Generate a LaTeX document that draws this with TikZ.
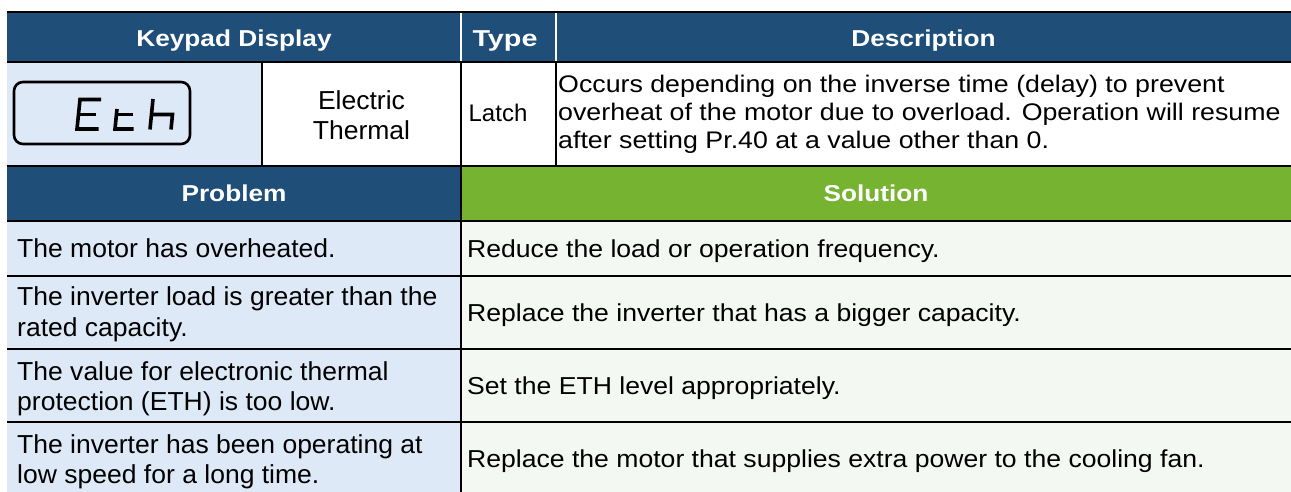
\documentclass[tikz,border=0pt]{standalone}
\usepackage{fontspec}
\setmainfont{Liberation Sans}
\newfontfamily\hdrfont{Liberation Sans}[FakeStretch=1.14]
\newfontfamily\typefont{Liberation Sans}[FakeStretch=1.25]
\newfontfamily\probfont{Liberation Sans}[FakeStretch=1.02]
\newfontfamily\solfont{Liberation Sans}[FakeStretch=1.085]
\newfontfamily\descfont{Liberation Sans}[FakeStretch=1.115]
\definecolor{hdrblue}{RGB}{31,78,121}
\definecolor{lightblue}{RGB}{221,233,246}
\definecolor{hdrgreen}{RGB}{118,179,48}
\definecolor{solbg}{RGB}{244,248,242}
\tikzset{
  rule/.style={draw=black,line width=2pt},
  wrule/.style={draw=white,line width=2pt},
  hdr/.style={inner sep=0pt,anchor=base,text=white,font=\hdrfont\bfseries\fontsize{23}{27}\selectfont},
  hdrtype/.style={inner sep=0pt,anchor=base,text=white,font=\typefont\bfseries\fontsize{23}{27}\selectfont},
  probtxt/.style={inner sep=0pt,anchor=base west,font=\probfont\fontsize{26}{30}\selectfont},
  soltxt/.style={inner sep=0pt,anchor=base west,font=\solfont\fontsize{24.5}{29}\selectfont},
  desctxt/.style={inner sep=0pt,anchor=base west,font=\descfont\fontsize{24}{28}\selectfont},
  midtxt/.style={inner sep=0pt,anchor=base,font=\probfont\fontsize{26}{30}\selectfont},
  latchtxt/.style={inner sep=0pt,anchor=base,font=\fontsize{24}{28}\selectfont},
  seg/.style={line width=3.6pt,line join=miter},
  lcdbox/.style={draw=black,line width=2.6pt,rounded corners=9pt}
}
\begin{document}
\begin{tikzpicture}[x=1pt,y=-1pt]
\useasboundingbox (0,0) rectangle (1291,492);
% fills
\fill[hdrblue] (7,12) rectangle (1291,62);
\fill[lightblue] (7,62) rectangle (262,166);
\fill[white] (262,62) rectangle (1291,166);
\fill[hdrblue] (7,166) rectangle (461,221);
\fill[hdrgreen] (461,166) rectangle (1291,221);
\fill[lightblue] (7,221) rectangle (461,495);
\fill[solbg] (461,221) rectangle (1291,495);
% header separators
\draw[wrule] (461,13) -- (461,61);
\draw[wrule] (556,13) -- (556,61);
% black rules
\draw[rule] (7,12) -- (1291,12);
\draw[rule] (7,62) -- (1291,62);
\draw[rule] (7,166) -- (1291,166);
\draw[rule] (7,221) -- (1291,221);
\draw[rule] (7,276) -- (1291,276);
\draw[rule] (7,349) -- (1291,349);
\draw[rule] (7,422) -- (1291,422);
\draw[rule] (262,62) -- (262,166);
\draw[rule] (461,62) -- (461,495);
\draw[rule] (556,62) -- (556,166);
% LCD display
\draw[lcdbox] (14,82) rectangle (190,144);
\draw[seg] (101,99.5) -- (80,99.5) -- (77,129) -- (98.5,129);
\draw[seg] (78.5,114.5) -- (96,114.5);
\draw[seg] (117,109) -- (115,129) -- (133.5,129);
\draw[seg] (116.5,114.5) -- (133,114.5);
\draw[seg] (153,99) -- (150,129.5);
\draw[seg] (151.5,114.5) -- (172.5,114.5) -- (171,129.5);
% header texts
\node[hdr] (hkd) at (234,46.5) {Keypad Display};
\node[hdrtype] (hty) at (505,46.5) {Type};
\node[hdr] (hde) at (923.5,46.5) {Description};
% second row
\node[midtxt] (et1) at (361.5,110) {Electric};
\node[midtxt] (et2) at (361.5,140) {Thermal};
\node[latchtxt] (lat) at (498,122) {Latch};
\node[desctxt] (d1) at (558,93) {Occurs depending on the inverse time (delay) to prevent};
\node[desctxt] (d2) at (558,121) {overheat of the motor due to overload. Operation will resume};
\node[desctxt] (d3) at (558,149) {after setting Pr.40 at a value other than 0.};
% problem / solution headers
\node[hdr] (hpr) at (234,201.5) {Problem};
\node[hdr] (hso) at (876,201.5) {Solution};
% problems
\node[probtxt] (p1) at (17,257.7) {The motor has overheated.};
\node[probtxt] (p2a) at (17,305.7) {The inverter load is greater than the};
\node[probtxt] (p2b) at (17,336.7) {rated capacity.};
\node[probtxt] (p3a) at (17,380) {The value for electronic thermal};
\node[probtxt] (p3b) at (17,410) {protection (ETH) is too low.};
\node[probtxt] (p4a) at (17,453) {The inverter has been operating at};
\node[probtxt] (p4b) at (17,483) {low speed for a long time.};
% solutions
\node[soltxt] (s1) at (467,257) {Reduce the load or operation frequency.};
\node[soltxt] (s2) at (467,321) {Replace the inverter that has a bigger capacity.};
\node[soltxt] (s3) at (467,394) {Set the ETH level appropriately.};
\node[soltxt] (s4) at (467,467) {Replace the motor that supplies extra power to the cooling fan.};
\end{tikzpicture}
\end{document}
